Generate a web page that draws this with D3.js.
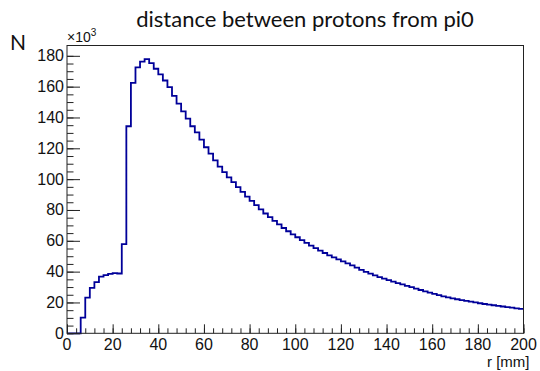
<!DOCTYPE html>
<html>
<head>
<meta charset="utf-8">
<script src="https://cdn.jsdelivr.net/npm/d3@7"></script>
<style>
  body { margin: 0; background: #fff; }
  svg { display: block; }
</style>
</head>
<body>
<svg id="chart" width="540" height="371"></svg>
<script>
// histogram: distance between protons from pi0, 100 bins over 0-200 mm
var xMin = 0, xMax = 200, binWidth = 2;

// bin contents in units of 10^3
var counts = [
    0, 0, 0, 10.2, 23.1, 29.5, 33.2, 36.7, 37.7, 38.6,
    39.0, 38.8, 57.9, 134.3, 162.5, 172.5, 176.2, 177.8, 175.2, 171.6,
    168.0, 164.0, 159.7, 154.0, 149.0, 144.0, 139.2, 134.3, 130.4, 125.6,
    120.7, 116.6, 112.2, 108.1, 104.5, 101.2, 98.0, 94.8, 91.7, 88.7,
    85.9, 83.1, 80.4, 77.7, 75.3, 72.9, 70.6, 68.3, 66.2, 64.2,
    62.3, 60.4, 58.6, 56.9, 55.2, 53.6, 52.1, 50.6, 49.2, 47.9,
    46.6, 45.3, 44.0, 42.6, 41.2, 39.9, 38.7, 37.6, 36.5, 35.5,
    34.5, 33.5, 32.6, 31.7, 30.8, 29.9, 29.0, 28.1, 27.2, 26.4,
    25.6, 24.8, 24.0, 23.3, 22.7, 22.1, 21.5, 21.0, 20.5, 20.0,
    19.5, 19.0, 18.6, 18.2, 17.8, 17.4, 17.0, 16.6, 16.2, 15.8
];

var xTicks = [0, 20, 40, 60, 80, 100, 120, 140, 160, 180, 200];
var yTicks = [0, 20, 40, 60, 80, 100, 120, 140, 160, 180];

var titleText = "distance between protons from pi0";
var xTitle = "r [mm]";
var yTitle = "N";

var svg = d3.select("#chart"),
    frame = { left: 67, right: 523.5, top: 45.5, bottom: 333.3 };

var lineColor = "#000099";

// ROOT style: max + 5%
var yMax = d3.max(counts) * 1.05;

var x = d3.scaleLinear().domain([xMin, xMax]).range([frame.left, frame.right]);
var y = d3.scaleLinear().domain([0, yMax]).range([frame.bottom, frame.top]);

svg.append("rect")
    .attr("width", 540).attr("height", 371)
    .attr("fill", "#fff");

// step points, low edge of each bin, plus the upper end of the last bin
var pts = counts.map(function (c, i) { return [xMin + i * binWidth, c]; });
pts.push([xMax, counts[counts.length - 1]]);

var step = d3.line()
    .x(function (d) { return x(d[0]); })
    .y(function (d) { return y(d[1]); })
    .curve(d3.curveStepAfter);

svg.append("path")
    .attr("d", step(pts))
    .attr("fill", "none")
    .attr("stroke", lineColor)
    .attr("stroke-width", 1.8);

// axes (ticks drawn inward like ROOT)
var xAxis = d3.axisTop(x)
    .tickValues(d3.range(xMin, xMax + 0.01, 4))
    .tickSize(5)
    .tickFormat("");
svg.append("g")
    .attr("transform", "translate(0," + frame.bottom + ")")
    .call(xAxis);

var xMajor = d3.axisTop(x)
    .tickValues(xTicks)
    .tickSize(9)
    .tickFormat("");
svg.append("g")
    .attr("transform", "translate(0," + frame.bottom + ")")
    .call(xMajor);

var yAxis = d3.axisRight(y)
    .tickValues(d3.range(0, 185, 5))
    .tickSize(6.5)
    .tickFormat("");
svg.append("g")
    .attr("transform", "translate(" + frame.left + ",0)")
    .call(yAxis);

var yMajor = d3.axisRight(y)
    .tickValues(yTicks)
    .tickSize(13)
    .tickFormat("");
svg.append("g")
    .attr("transform", "translate(" + frame.left + ",0)")
    .call(yMajor);

svg.selectAll(".domain").remove();
svg.selectAll(".tick line").attr("stroke", "#222").attr("stroke-width", 1);

// frame
svg.append("rect")
    .attr("x", frame.left).attr("y", frame.top)
    .attr("width", frame.right - frame.left)
    .attr("height", frame.bottom - frame.top)
    .attr("fill", "none")
    .attr("stroke", "#222")
    .attr("stroke-width", 1);

// tick labels
var labelFont = "'Liberation Sans', Arial, sans-serif";

svg.append("g").selectAll("text")
    .data(xTicks)
    .enter().append("text")
    .attr("x", function (d) { return x(d); })
    .attr("y", frame.bottom + 17)
    .attr("text-anchor", "middle")
    .attr("font-family", labelFont)
    .attr("font-size", 16)
    .attr("fill", "#111")
    .text(function (d) { return d; });

svg.append("g").selectAll("text")
    .data(yTicks)
    .enter().append("text")
    .attr("x", frame.left - 3)
    .attr("y", function (d) { return y(d) + 5.5; })
    .attr("text-anchor", "end")
    .attr("font-family", labelFont)
    .attr("font-size", 16)
    .attr("fill", "#111")
    .text(function (d) { return d; });

// exponent
var expo = svg.append("text")
    .attr("x", frame.left)
    .attr("y", 42)
    .attr("font-family", labelFont)
    .attr("font-size", 14)
    .attr("fill", "#111");
expo.append("tspan").text("\u00d710");
expo.append("tspan").attr("dy", -6).attr("font-size", 10).text("3");

// axis titles
svg.append("text")
    .attr("x", frame.right + 6)
    .attr("y", 367)
    .attr("text-anchor", "end")
    .attr("font-family", labelFont)
    .attr("font-size", 15)
    .attr("fill", "#111")
    .text(xTitle);

svg.append("text")
    .attr("x", 10)
    .attr("y", 50)
    .attr("font-family", "Lato, 'DejaVu Sans', sans-serif")
    .attr("font-size", 21)
    .attr("fill", "#111")
    .text(yTitle);

svg.append("text")
    .attr("x", 305)
    .attr("y", 27)
    .attr("text-anchor", "middle")
    .attr("font-family", "Lato, 'DejaVu Sans', sans-serif")
    .attr("font-size", 22)
    .attr("fill", "#111")
    .text(titleText);
</script>
</body>
</html>
